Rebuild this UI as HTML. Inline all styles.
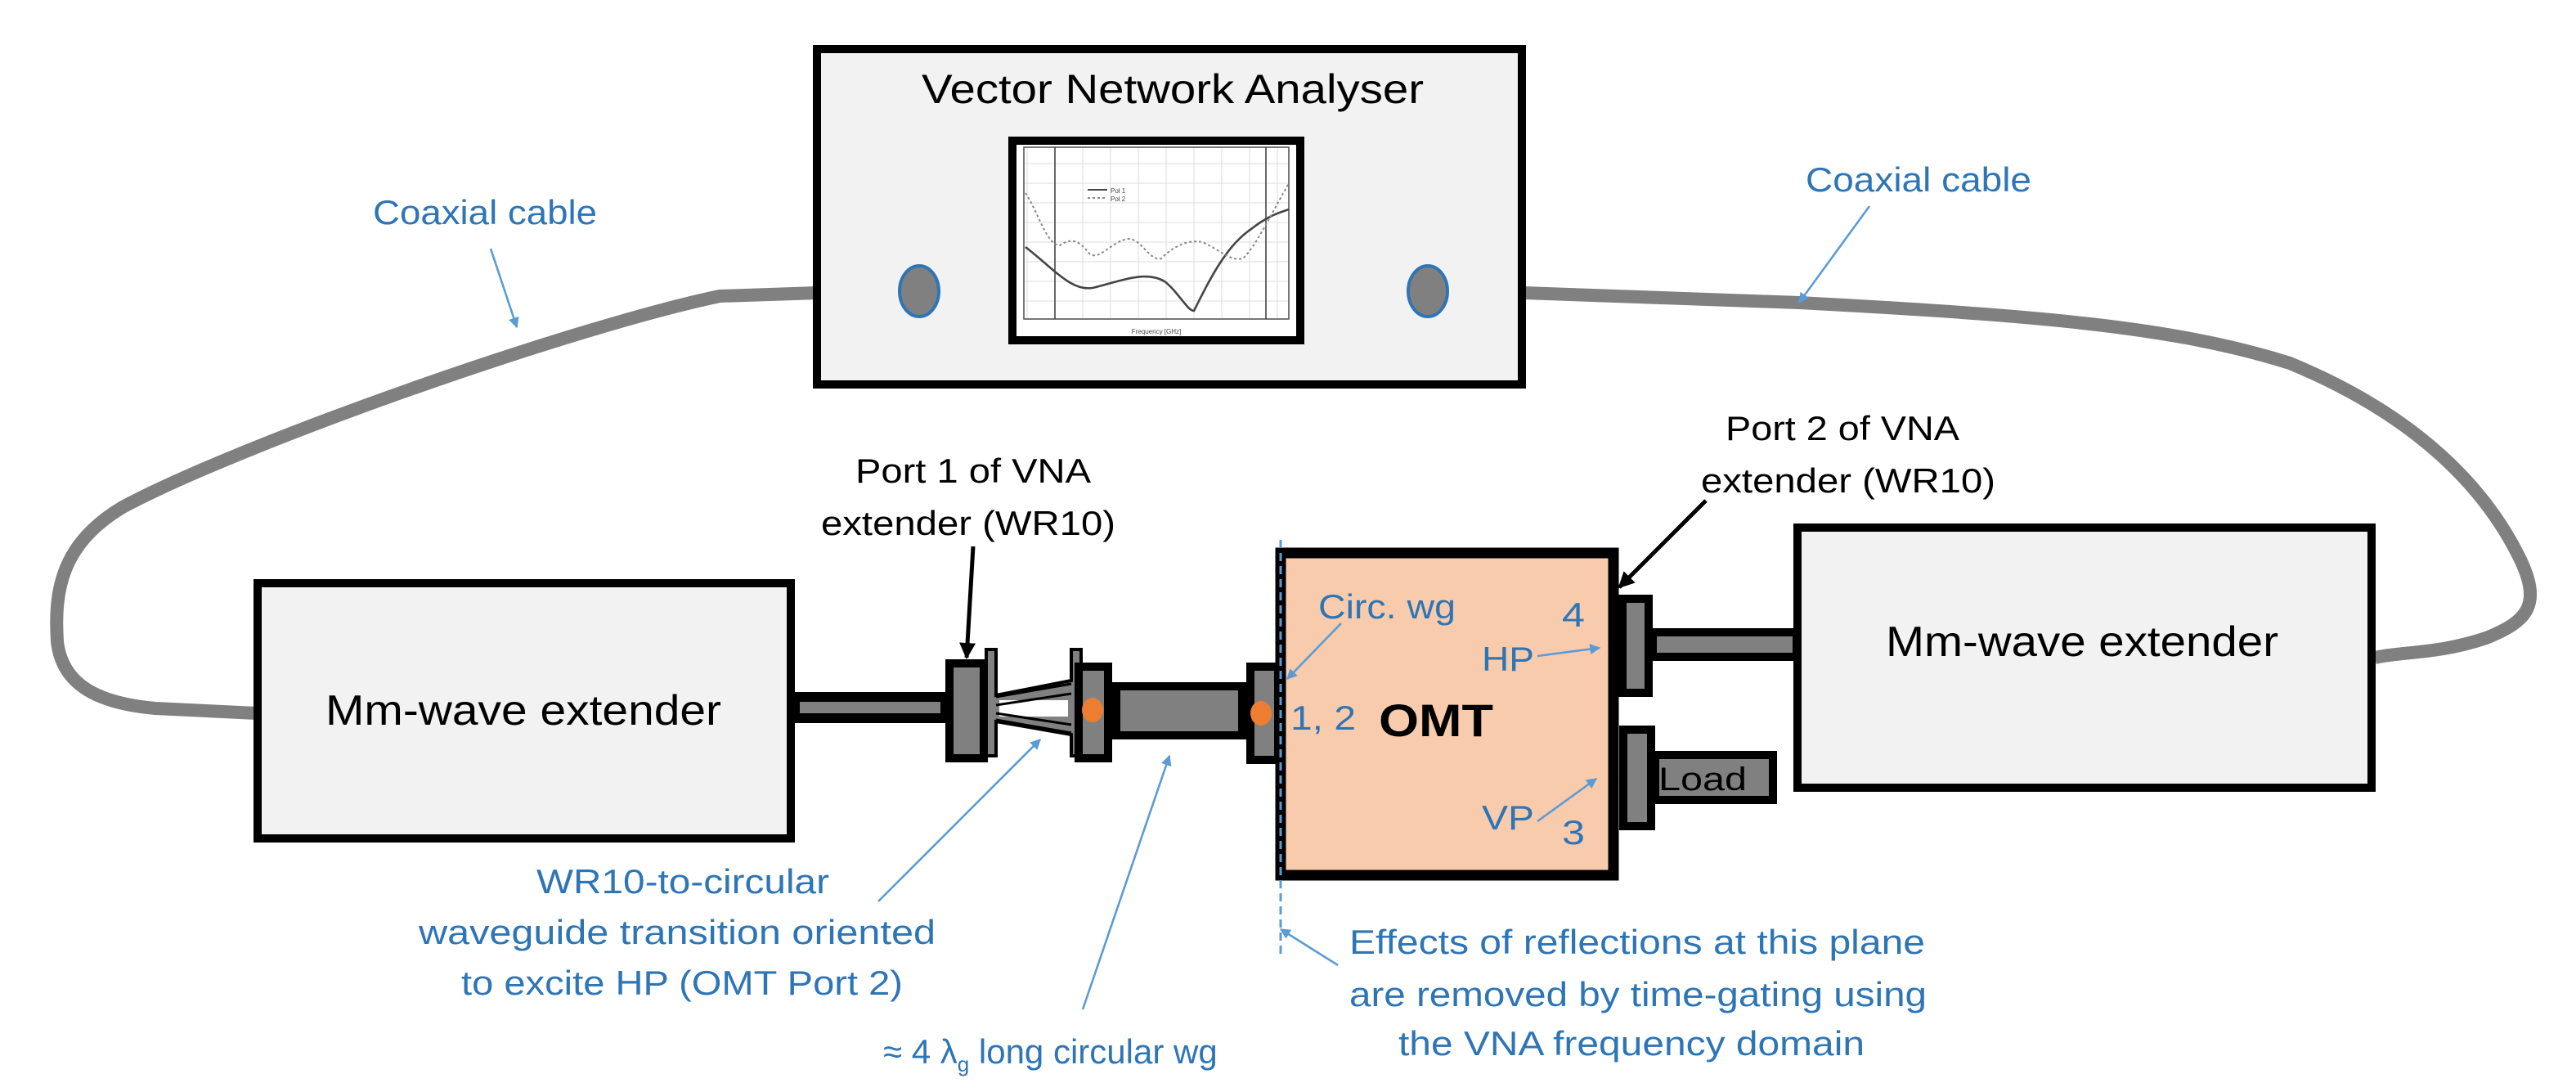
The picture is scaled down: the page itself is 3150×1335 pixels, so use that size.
<!DOCTYPE html>
<html><head><meta charset="utf-8"><style>html,body{margin:0;padding:0;background:#fff}svg{display:block}</style></head>
<body>
<svg width="3150" height="1335" viewBox="0 0 1575 667.5" xmlns="http://www.w3.org/2000/svg" font-family="'Liberation Sans', sans-serif">
<defs>
<marker id="ab" viewBox="0 0 10 10" refX="9" refY="5" markerWidth="5" markerHeight="5" orient="auto"><path d="M0,0 L10,5 L0,10 z" fill="#5b9bd5"/></marker>
<marker id="ak" viewBox="0 0 10 10" refX="9" refY="5" markerWidth="4" markerHeight="4" orient="auto"><path d="M0,0 L10,5 L0,10 z" fill="#000"/></marker>
</defs>
<rect width="1575" height="667.5" fill="#fff"/>

<!-- cables -->
<path d="M560,177 L440,181 C350,200 150,270 75,310 C38,332 33,360 35,392 C38,420 62,430 95,433 L157,436" fill="none" stroke="#808080" stroke-width="8" stroke-linejoin="round"/>
<path d="M875,177 L1100,185 C1250,193 1330,200 1400,222 C1480,255 1520,300 1540,340 C1555,370 1545,380 1520,390 C1490,400 1470,398 1452,402" fill="none" stroke="#808080" stroke-width="8"/>

<!-- VNA -->
<rect x="499.5" y="30" width="431" height="205" fill="#f2f2f2" stroke="#000" stroke-width="5"/>
<text x="717" y="63" font-size="25" text-anchor="middle" textLength="307" lengthAdjust="spacingAndGlyphs">Vector Network Analyser</text>
<rect x="619" y="86" width="176" height="122" fill="#fff" stroke="#000" stroke-width="5"/>
<g stroke="#ddd" stroke-width="0.5">
<path d="M628,90 V195 M645,90 V195 M662,90 V195 M679,90 V195 M696,90 V195 M713,90 V195 M730,90 V195 M747,90 V195 M764,90 V195 M781,90 V195"/>
<path d="M626,100 H788 M626,112 H788 M626,124 H788 M626,136 H788 M626,148 H788 M626,160 H788 M626,172 H788 M626,184 H788"/>
</g>
<rect x="626" y="90" width="162" height="105" fill="none" stroke="#555" stroke-width="0.8"/>
<path d="M645,90 V195 M774,90 V195" stroke="#444" stroke-width="0.8"/>
<path d="M627,151 C645,165 655,178 668,176 C685,172 700,165 712,172 C720,178 726,190 730,190 C740,170 750,150 765,140 C775,132 782,130 788,128" fill="none" stroke="#444" stroke-width="1.3"/>
<path d="M627,118 C635,130 640,150 648,150 C655,145 660,147 666,155 C672,160 680,147 690,146 C698,146 703,160 710,158 C716,152 725,146 735,148 C745,152 752,160 760,158 C768,150 775,135 788,112" fill="none" stroke="#888" stroke-width="1" stroke-dasharray="1.5,1.5"/>
<path d="M665,116 H677" stroke="#444" stroke-width="1"/><path d="M665,121 H677" stroke="#888" stroke-width="1" stroke-dasharray="1.5,1.5"/>
<text x="679" y="118" font-size="4" fill="#444">Pol 1</text><text x="679" y="123" font-size="4" fill="#444">Pol 2</text>
<text x="707" y="204" font-size="4" fill="#444" text-anchor="middle">Frequency [GHz]</text>
<ellipse cx="562" cy="178" rx="12" ry="15.5" fill="#808080" stroke="#2e75b6" stroke-width="2"/>
<ellipse cx="873" cy="178" rx="12" ry="15.5" fill="#808080" stroke="#2e75b6" stroke-width="2"/>

<!-- extenders -->
<rect x="157.5" y="356.5" width="326" height="156" fill="#f2f2f2" stroke="#000" stroke-width="5"/>
<text x="320" y="443" font-size="26" text-anchor="middle" textLength="242" lengthAdjust="spacingAndGlyphs">Mm-wave extender</text>
<rect x="1099" y="322.5" width="351" height="159" fill="#f2f2f2" stroke="#000" stroke-width="5"/>
<text x="1273" y="401" font-size="26" text-anchor="middle" textLength="240" lengthAdjust="spacingAndGlyphs">Mm-wave extender</text>

<!-- left waveguide -->
<rect x="486" y="426" width="92" height="13" fill="#808080" stroke="#000" stroke-width="6"/>
<!-- transition -->
<path d="M603,397 H609 V425 L655,416 V397 H661 V462 H655 V449 L609,441 V462 H603 Z" fill="#808080" stroke="#000" stroke-width="2"/>
<rect x="611" y="428" width="42" height="10" fill="#fff"/>
<path d="M609,426 L655,418 M609,440 L655,448" stroke="#000" stroke-width="1.5"/>
<path d="M609,431 L655,424 M609,436 L655,443" stroke="#000" stroke-width="1.5"/>
<rect x="580.5" y="405.5" width="21" height="58" fill="#808080" stroke="#000" stroke-width="5"/>
<rect x="659.5" y="407.5" width="18" height="56" fill="#808080" stroke="#000" stroke-width="5"/>
<ellipse cx="668" cy="434" rx="6.5" ry="7.5" fill="#ed7d31"/>
<rect x="682.5" y="419.5" width="77" height="30" fill="#808080" stroke="#000" stroke-width="5"/>
<rect x="764.5" y="407.5" width="17" height="57" fill="#808080" stroke="#000" stroke-width="5"/>
<ellipse cx="771" cy="436" rx="6.5" ry="7.5" fill="#ed7d31"/>

<!-- OMT -->
<rect x="783" y="338" width="203.5" height="197" fill="#f8cbad" stroke="#000" stroke-width="6.5"/>
<line x1="783" y1="330" x2="783" y2="585" stroke="#5b9bd5" stroke-width="1.5" stroke-dasharray="5,3"/>
<rect x="992" y="366" width="16" height="57.5" fill="#808080" stroke="#000" stroke-width="5"/>
<rect x="1010.5" y="386.5" width="88" height="15" fill="#808080" stroke="#000" stroke-width="5"/>
<rect x="992.5" y="446" width="17" height="59" fill="#808080" stroke="#000" stroke-width="5"/>
<rect x="1012" y="461.5" width="72" height="27.5" fill="#808080" stroke="#000" stroke-width="5"/>
<text x="1041" y="483" font-size="20" text-anchor="middle" textLength="54" lengthAdjust="spacingAndGlyphs">Load</text>
<text x="878" y="450" font-size="28" font-weight="bold" text-anchor="middle" textLength="70" lengthAdjust="spacingAndGlyphs">OMT</text>

<g fill="#2e75b6" font-size="21">
<text x="806" y="378" textLength="84" lengthAdjust="spacingAndGlyphs">Circ. wg</text>
<text x="955" y="383" textLength="14" lengthAdjust="spacingAndGlyphs">4</text>
<text x="906" y="410" textLength="32" lengthAdjust="spacingAndGlyphs">HP</text>
<text x="789" y="446" textLength="40" lengthAdjust="spacingAndGlyphs">1, 2</text>
<text x="906" y="507" textLength="32" lengthAdjust="spacingAndGlyphs">VP</text>
<text x="955" y="516" textLength="14" lengthAdjust="spacingAndGlyphs">3</text>
<text x="228" y="137" textLength="137" lengthAdjust="spacingAndGlyphs">Coaxial cable</text>
<text x="1104" y="117" textLength="138" lengthAdjust="spacingAndGlyphs">Coaxial cable</text>
<text x="328" y="546" textLength="179" lengthAdjust="spacingAndGlyphs">WR10-to-circular</text>
<text x="256" y="577" textLength="316" lengthAdjust="spacingAndGlyphs">waveguide transition oriented</text>
<text x="282" y="608" textLength="270" lengthAdjust="spacingAndGlyphs">to excite HP (OMT Port 2)</text>
<text x="540" y="650">≈ 4 λ<tspan font-size="13" dy="5">g</tspan><tspan dy="-5"> long circular wg</tspan></text>
<text x="825" y="583" textLength="352" lengthAdjust="spacingAndGlyphs">Effects of reflections at this plane</text>
<text x="825" y="615" textLength="353" lengthAdjust="spacingAndGlyphs">are removed by time-gating using</text>
<text x="855" y="645" textLength="285" lengthAdjust="spacingAndGlyphs">the VNA frequency domain</text>
</g>
<g font-size="21" fill="#000">
<text x="523" y="295" textLength="144" lengthAdjust="spacingAndGlyphs">Port 1 of VNA</text>
<text x="502" y="327" textLength="180" lengthAdjust="spacingAndGlyphs">extender (WR10)</text>
<text x="1055" y="269" textLength="143" lengthAdjust="spacingAndGlyphs">Port 2 of VNA</text>
<text x="1040" y="301" textLength="180" lengthAdjust="spacingAndGlyphs">extender (WR10)</text>
</g>

<!-- arrows -->
<g stroke="#5b9bd5" stroke-width="1.3" fill="none" marker-end="url(#ab)">
<line x1="300" y1="152" x2="316" y2="200"/>
<line x1="1143" y1="126" x2="1100" y2="185"/>
<line x1="820" y1="381" x2="787" y2="415"/>
<line x1="940" y1="401" x2="978" y2="396"/>
<line x1="940" y1="502" x2="976" y2="476"/>
<line x1="537" y1="551" x2="636" y2="452"/>
<line x1="662" y1="617" x2="715" y2="462"/>
<line x1="818" y1="590" x2="783" y2="568"/>
</g>
<g stroke="#000" stroke-width="2.5" fill="none" marker-end="url(#ak)">
<line x1="595" y1="334" x2="591" y2="402"/>
<line x1="1043" y1="306" x2="990" y2="359"/>
</g>
</svg>
</body></html>
